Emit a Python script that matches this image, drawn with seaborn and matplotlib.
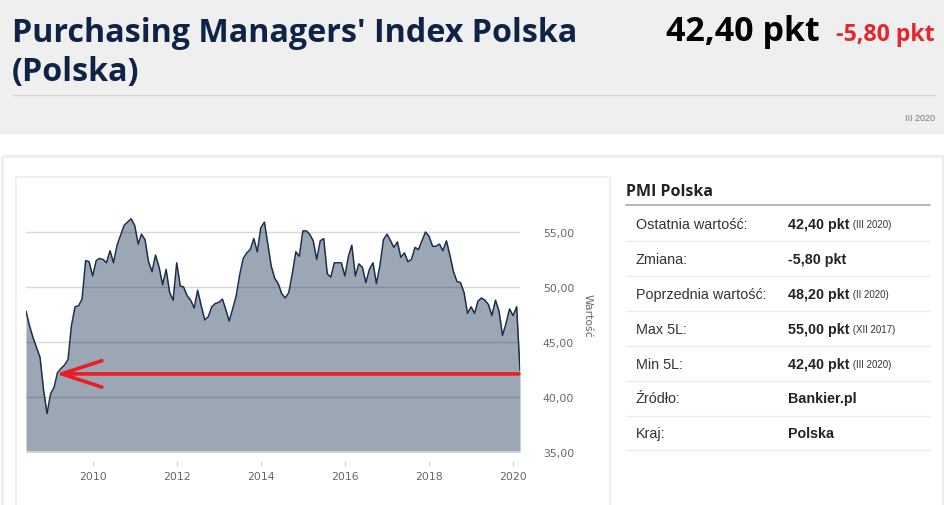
import matplotlib
matplotlib.use("Agg")
import matplotlib.pyplot as plt
from matplotlib.patches import Rectangle
import matplotlib.dates as mdates
import seaborn as sns
import pandas as pd

sns.set_style("white")
plt.rcParams['font.family'] = ['DejaVu Sans']

# Monthly PMI readings, June 2008 - March 2020
pmi_2008 = [47.8, 46.5, 45.4, 44.5, 43.6, 40.6, 38.5]
pmi_2009 = [40.3, 40.9, 42.2, 42.6, 42.9, 43.4, 46.5, 48.2, 48.3, 48.9, 52.4, 52.3]
pmi_2010 = [51.0, 52.4, 52.6, 52.5, 52.2, 53.3, 52.2, 53.8, 54.7, 55.6, 55.9, 56.2]
pmi_2011 = [55.6, 53.9, 54.8, 54.3, 52.3, 51.4, 52.9, 51.8, 50.2, 51.6, 49.5, 48.8]
pmi_2012 = [52.2, 50.1, 50.0, 49.2, 48.8, 48.1, 49.7, 48.3, 47.0, 47.3, 48.2, 48.5]
pmi_2013 = [48.6, 48.9, 48.0, 46.9, 48.0, 49.2, 51.1, 52.6, 53.1, 53.4, 54.4, 53.2]
pmi_2014 = [55.4, 55.9, 54.0, 51.9, 50.8, 50.3, 49.4, 49.0, 49.5, 51.2, 53.2, 52.8]
pmi_2015 = [55.1, 55.1, 54.8, 54.2, 52.5, 54.2, 54.4, 51.2, 50.9, 52.2, 52.2, 52.2]
pmi_2016 = [51.0, 52.8, 53.8, 51.0, 52.1, 51.8, 50.4, 51.6, 52.2, 50.3, 52.0, 54.3]
pmi_2017 = [54.8, 54.2, 53.6, 54.1, 52.7, 53.1, 52.3, 52.5, 53.6, 53.4, 54.2, 55.0]
pmi_2018 = [54.6, 53.7, 53.7, 53.9, 53.3, 54.2, 52.9, 51.4, 50.5, 50.4, 49.5, 47.6]
pmi_2019 = [48.2, 47.6, 48.7, 49.0, 48.8, 48.4, 47.4, 48.8, 47.8, 45.6, 46.7, 48.0]
pmi_2020 = [47.4, 48.2, 42.4]

pmi_values = (pmi_2008 + pmi_2009 + pmi_2010 + pmi_2011 + pmi_2012 + pmi_2013 + pmi_2014
              + pmi_2015 + pmi_2016 + pmi_2017 + pmi_2018 + pmi_2019 + pmi_2020)
months = pd.date_range("2008-06-01", periods=len(pmi_values), freq="MS")
df = pd.DataFrame({"Miesiac": months, "Wartosc": pmi_values})

y_ticks = [35, 40, 45, 50, 55]
x_years = [2010, 2012, 2014, 2016, 2018, 2020]

# hand-drawn red arrow on the screenshot
arrow_level = 42.1
arrow_start = pd.Timestamp("2020-02-20")
arrow_tip = pd.Timestamp("2009-02-15")

# header
title_line1 = "Purchasing Managers' Index Polska"
title_line2 = "(Polska)"
last_value = "42,40 pkt"
last_change = "-5,80 pkt"
period = "III 2020"

# side table
table_title = "PMI Polska"
table_labels = ["Ostatnia wartość:", "Zmiana:", "Poprzednia wartość:", "Max 5L:",
                "Min 5L:", "Źródło:", "Kraj:"]
table_values = ["42,40 pkt", "-5,80 pkt", "48,20 pkt", "55,00 pkt", "42,40 pkt",
                "Bankier.pl", "Polska"]
table_notes = ["(III 2020)", "", "(II 2020)", "(XII 2017)", "(III 2020)", "", ""]

W, H = 945, 506
fig = plt.figure(figsize=(W / 100, H / 100), dpi=100)
fig.patch.set_facecolor("white")

# pixel-space background layer
bg = fig.add_axes([0, 0, 1, 1])
bg.set_xlim(0, W)
bg.set_ylim(H, 0)
bg.axis("off")
bg.add_patch(Rectangle((0, 0), W, 135, color="#efefef", lw=0))
bg.add_patch(Rectangle((1.5, 156.5), 941, 360, fill=False, ec="#eeeeee", lw=2.2))
bg.add_patch(Rectangle((15.5, 177.5), 594, 340, fill=False, ec="#efefef", lw=1.4))

head_font = ["Open Sans", "DejaVu Sans"]
bg.text(12, 42, title_line1, fontsize=23.2, color="#0f2346", family=head_font,
        weight="bold", va="baseline")
bg.text(12, 81, title_line2, fontsize=23.2, color="#0f2346", family=head_font,
        weight="bold", va="baseline")
bg.text(820, 41, last_value, fontsize=24.5, color="black", family=head_font,
        weight="bold", va="baseline", ha="right")
bg.text(935, 41, last_change, fontsize=16.7, color="#e3262f", family=head_font,
        weight="bold", va="baseline", ha="right")
bg.plot([12, 935], [96, 96], color="#d6d6d6", lw=1)
bg.text(935, 121, period, fontsize=6.5, color="#777777", va="baseline", ha="right",
        family=["Liberation Sans"])

# table
bg.text(626, 196, table_title, fontsize=11.5, color="#222222", family=head_font,
        weight="bold", va="baseline")
bg.plot([626, 930], [206, 206], color="#a8a8a8", lw=1.2)
row_base = 229
row_step = 34.9
for i, (lab, val, note) in enumerate(zip(table_labels, table_values, table_notes)):
    yb = row_base + i * row_step
    bg.text(636, yb, lab, fontsize=10.4, color="#333333", family=["Liberation Sans"],
            va="baseline")
    t = bg.text(788, yb, val, fontsize=10.3, color="#222222", family=["Liberation Sans"],
                weight="bold", va="baseline")
    if note:
        bg.annotate(" " + note, xy=(1, 0), xycoords=t, fontsize=7, color="#333333",
                    family=["Liberation Sans"], va="bottom", ha="left",
                    xytext=(0, 1.5), textcoords="offset points")
    bg.plot([626, 930], [yb + 13, yb + 13], color="#ececec", lw=1)

# chart
left, right, bottom, top = 26, 520, 453, 189
ax = fig.add_axes([left / W, 1 - bottom / H, (right - left) / W, (bottom - top) / H])
ax.set_facecolor("none")
ax.fill_between(df["Miesiac"], df["Wartosc"], 35, color="#9ba7b5", lw=0, zorder=1)
sns.lineplot(data=df, x="Miesiac", y="Wartosc", color="#1c2e4a", lw=1.1, ax=ax, zorder=3)
ax.annotate("", xy=(arrow_tip, arrow_level), xytext=(arrow_start, arrow_level),
            arrowprops=dict(arrowstyle="->,head_length=2.9,head_width=0.95",
                            color="#ec1c24", lw=2.6, shrinkA=0, shrinkB=0),
            fontsize=10, zorder=4)

ax.set_xlim(months[0], months[-1])
ax.set_ylim(35, 59)
ax.set_yticks(y_ticks)
ax.set_yticklabels([f"{v:.2f}".replace(".", ",") for v in y_ticks])
ax.set_xticks([pd.Timestamp(f"{y}-01-01") for y in x_years])
ax.xaxis.set_major_formatter(mdates.DateFormatter("%Y"))
ax.grid(axis="y", color="black", alpha=0.15, lw=1)
ax.set_axisbelow(False)
for s in ["top", "left", "right"]:
    ax.spines[s].set_visible(False)
ax.spines["bottom"].set_position(("outward", 6.5))
ax.spines["bottom"].set_visible(False)
ax.axhline(35, color="#e4e8ef", lw=1.2, zorder=2)
ax.yaxis.tick_right()
ax.tick_params(axis="y", length=0, pad=16.5, labelsize=7.8, labelcolor="#666666")
ax.tick_params(axis="x", length=3.8, width=0.8, color="#ccd6eb", pad=3.5,
               labelsize=7.8, labelcolor="#666666", bottom=True)
ax.set_xlabel("")
ax.set_ylabel("Wartość", fontsize=7.8, color="#666666", rotation=-90)
ax.yaxis.set_label_position("right")
ax.yaxis.set_label_coords((588 - left) / (right - left), (bottom - 316) / (bottom - top))
ax.yaxis.label.set_va("center")
ax.yaxis.label.set_ha("center")

fig.savefig("out.png", dpi=100, facecolor="white")
